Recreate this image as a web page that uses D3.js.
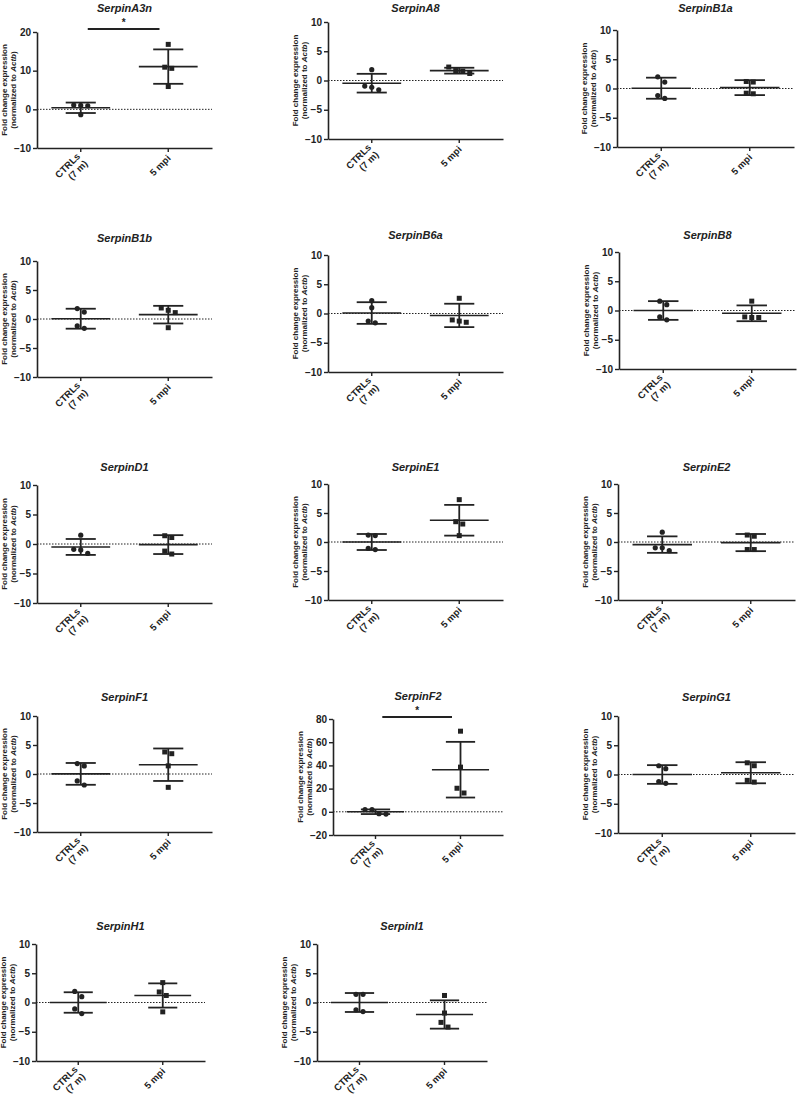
<!DOCTYPE html>
<html><head><meta charset="utf-8">
<script src="https://cdn.jsdelivr.net/npm/d3@7"></script>
<style>
body{margin:0;background:#fff}
svg{display:block}
text{font-family:"Liberation Sans",Arial,sans-serif;fill:#222}
</style>
</head><body>
<svg id="chart" width="797" height="1098"></svg>
<script>
// ---------- data ----------
const genes = ["SerpinA3n","SerpinA8","SerpinB1a","SerpinB1b","SerpinB6a","SerpinB8",
  "SerpinD1","SerpinE1","SerpinE2","SerpinF1","SerpinF2","SerpinG1","SerpinH1","SerpinI1"];
const groups = ["CTRLs (7 m)","5 mpi"];
const groupLabelLines = [["CTRLs","(7 m)"],["5 mpi"]];

const ctrlValues = [
  [1.0, 1.1, 0.9, -1.4],
  [1.85, -0.95, -1.15, -1.6],
  [2.0, 1.1, -1.2, -1.7],
  [1.8, 1.2, -1.2, -1.6],
  [2.2, 1.0, -1.6, -1.3],
  [1.6, 1.0, -1.1, -1.6],
  [1.5, -0.9, -1.0, -1.6],
  [1.1, 1.2, -1.3, -1.1],
  [1.7, -1.0, -1.0, -1.5],
  [1.8, 1.4, -1.2, -1.9],
  [1.8, 2.0, -2.0, -1.6],
  [1.5, 1.0, -1.2, -1.5],
  [1.9, 1.0, -1.1, -1.9],
  [1.4, 1.4, -1.25, -1.55]
];
const mpiValues = [
  [16.8, 10.9, 10.6, 5.9],
  [2.3, 1.7, 1.2, 1.6],
  [1.2, 1.1, -0.9, -0.8],
  [1.5, 1.1, 1.9, -1.5],
  [2.6, -1.1, -1.5, -1.3],
  [1.6, -1.1, -1.2, -1.2],
  [1.4, 1.1, -1.2, -1.7],
  [7.3, 3.5, 3.1, 1.1],
  [1.2, 1.0, -1.3, -1.3],
  [3.5, 3.8, 1.4, -2.3],
  [69.5, 38.5, 20.3, 16.2],
  [2.0, 1.5, -1.0, -1.3],
  [3.4, 1.8, 1.2, -1.6],
  [1.2, -1.8, -3.4, -4.2]
];
const ctrlMean = [0.4, -0.46, 0.05, 0.05, 0.08, 0.0, -0.5, 0.0, -0.45, 0.02, 0.05, 0.0, 0.0, 0.0];
const ctrlSD   = [1.35, 1.6, 1.8, 1.72, 1.85, 1.6, 1.35, 1.38, 1.42, 1.88, 2.0, 1.6, 1.75, 1.62];
const mpiMean  = [11.05, 1.68, 0.15, 0.75, -0.33, -0.48, -0.1, 3.75, -0.1, 1.6, 36.3, 0.3, 1.2, -2.05];
const mpiSD    = [4.45, 0.5, 1.28, 1.52, 2.0, 1.35, 1.6, 2.65, 1.48, 2.8, 24.0, 1.8, 2.07, 2.42];

const yDomains = [[-10,20],[-10,10],[-10,10],[-10,10],[-10,10],[-10,10],[-10,10],
  [-10,10],[-10,10],[-10,10],[-20,80],[-10,10],[-10,10],[-10,10]];
const yTicks = [[-10,0,10,20],[-10,-5,0,5,10],[-10,-5,0,5,10],[-10,-5,0,5,10],[-10,-5,0,5,10],
  [-10,-5,0,5,10],[-10,-5,0,5,10],[-10,-5,0,5,10],[-10,-5,0,5,10],[-10,-5,0,5,10],
  [-20,0,20,40,60,80],[-10,-5,0,5,10],[-10,-5,0,5,10],[-10,-5,0,5,10]];
// significance bar value (null = none)
const sigBar = [20.8, null, null, null, null, null, null, null, null, null, 81.7, null, null, null];
const sigLabel = "*";

// ---------- layout (pixel frame for each panel) ----------
const layout = [
  {x:37,  top:32,  bottom:148,  right:212, titleY:8},
  {x:328, top:22,  bottom:139,  right:503, titleY:8},
  {x:617, top:30,  bottom:147,  right:794, titleY:8},
  {x:37,  top:261, bottom:377,  right:212, titleY:238},
  {x:328, top:255, bottom:372,  right:503, titleY:235},
  {x:619, top:252, bottom:369,  right:796, titleY:235},
  {x:37,  top:485, bottom:603,  right:212, titleY:467},
  {x:328, top:484, bottom:600,  right:503, titleY:467},
  {x:618, top:484, bottom:600,  right:795, titleY:467},
  {x:37,  top:716, bottom:832,  right:212, titleY:697},
  {x:333, top:719, bottom:835,  right:503, titleY:696},
  {x:618, top:716, bottom:833,  right:795, titleY:697},
  {x:36,  top:944, bottom:1061, right:205, titleY:926},
  {x:317, top:944, bottom:1061, right:487, titleY:926}
];

const ink = "#222";
const svg = d3.select("#chart");

function jitterOffsets(vals, y, gap, spacing) {
  const order = vals.map((v,i)=>i).sort((a,b)=>vals[b]-vals[a]);
  const offs = new Array(vals.length).fill(0);
  let cluster = [order[0]];
  const flush = () => {
    const n = cluster.length;
    cluster.forEach((idx,k)=>{ offs[idx] = (k-(n-1)/2)*spacing; });
  };
  for (let k=1;k<order.length;k++){
    const prev = cluster[cluster.length-1];
    if (Math.abs(y(vals[order[k]])-y(vals[prev])) < gap) cluster.push(order[k]);
    else { flush(); cluster=[order[k]]; }
  }
  flush();
  return offs;
}

genes.forEach((gene,i)=>{
  const L = layout[i];
  const g = svg.append("g");
  const y = d3.scaleLinear().domain(yDomains[i]).range([L.bottom, L.top]);
  const x = d3.scaleBand().domain(groups).range([L.x, L.right]).padding(0);
  const cx = k => x(k) + x.bandwidth()/2;
  const w = L.right - L.x;

  // title
  g.append("text").attr("x", L.x + w/2).attr("y", L.titleY)
    .attr("text-anchor","middle").attr("dominant-baseline","central")
    .style("font-size","11px").style("font-weight","bold").style("font-style","italic")
    .text(gene);

  // dotted zero line
  g.append("line").attr("x1",L.x).attr("x2",L.right).attr("y1",y(0)).attr("y2",y(0))
    .attr("stroke",ink).attr("stroke-width",1).attr("stroke-dasharray","1.5,1.5");

  // y axis
  const ya = g.append("g").attr("transform",`translate(${L.x},0)`)
    .call(d3.axisLeft(y).tickValues(yTicks[i]).tickSize(4).tickSizeOuter(0).tickPadding(2));
  // x axis
  const xa = g.append("g").attr("transform",`translate(0,${L.bottom})`)
    .call(d3.axisBottom(x).tickSize(4).tickSizeOuter(0).tickFormat(""));
  [ya,xa].forEach(a=>{
    a.select(".domain").attr("stroke",ink).attr("stroke-width",1.6);
    a.selectAll(".tick line").attr("stroke",ink).attr("stroke-width",1.4);
  });
  ya.selectAll(".tick text").style("font-size","10px").style("font-weight","bold")
    .attr("fill",ink).style("font-family",'"Liberation Sans",Arial,sans-serif');

  // y label
  const ymid = (L.top + L.bottom)/2;
  const yl = g.append("text").attr("transform",`translate(${L.x-33},${ymid}) rotate(-90)`)
    .attr("text-anchor","middle").attr("dominant-baseline","central")
    .style("font-size","8px").style("font-weight","bold");
  yl.append("tspan").attr("x",0).attr("dy","0").text("Fold change expression");
  const yl2 = g.append("text").attr("transform",`translate(${L.x-24},${ymid}) rotate(-90)`)
    .attr("text-anchor","middle").attr("dominant-baseline","central")
    .style("font-size","8px").style("font-weight","bold");
  yl2.append("tspan").text("(normalized to ");
  yl2.append("tspan").style("font-style","italic").text("Actb");
  yl2.append("tspan").text(")");

  // x labels
  groups.forEach((grp,k)=>{
    const lines = groupLabelLines[k];
    const px = cx(grp) + (lines.length>1 ? 0 : 3);
    const py = L.bottom + (lines.length>1 ? 9 : 11);
    const t = g.append("text").attr("transform",`translate(${px},${py}) rotate(-45)`)
      .attr("text-anchor","end").style("font-size","9.5px").style("font-weight","bold");
    lines.forEach((ln,j)=>{
      t.append("tspan").attr("x",0).attr("dy", j===0 ? "0" : "1.1em").text(ln);
    });
  });

  // mean / SD
  const stats = [[ctrlMean[i],ctrlSD[i]],[mpiMean[i],mpiSD[i]]];
  groups.forEach((grp,k)=>{
    const c = cx(grp), m = stats[k][0], s = stats[k][1];
    const meanHalf = w*0.168, capHalf = w*0.086;
    g.append("line").attr("x1",c-meanHalf).attr("x2",c+meanHalf).attr("y1",y(m)).attr("y2",y(m))
      .attr("stroke",ink).attr("stroke-width",1.6);
    g.append("line").attr("x1",c).attr("x2",c).attr("y1",y(m-s)).attr("y2",y(m+s))
      .attr("stroke",ink).attr("stroke-width",1.8);
    [m-s,m+s].forEach(v=>{
      g.append("line").attr("x1",c-capHalf).attr("x2",c+capHalf).attr("y1",y(v)).attr("y2",y(v))
        .attr("stroke",ink).attr("stroke-width",1.8);
    });
  });

  // points
  const cOff = jitterOffsets(ctrlValues[i], y, 6, 7);
  g.selectAll(null).data(ctrlValues[i]).enter().append("circle")
    .attr("cx",(d,j)=>cx(groups[0])+cOff[j]).attr("cy",d=>y(d)).attr("r",2.6).attr("fill",ink);
  const mOff = jitterOffsets(mpiValues[i], y, 6, 7);
  g.selectAll(null).data(mpiValues[i]).enter().append("rect")
    .attr("x",(d,j)=>cx(groups[1])+mOff[j]-2.5).attr("y",d=>y(d)-2.5)
    .attr("width",5).attr("height",5).attr("fill",ink);

  // significance
  if (sigBar[i] !== null) {
    const yb = y(sigBar[i]);
    const x1 = L.x + w*0.29, x2 = L.x + w*0.70;
    g.append("line").attr("x1",x1).attr("x2",x2).attr("y1",yb).attr("y2",yb)
      .attr("stroke",ink).attr("stroke-width",2);
    g.append("text").attr("x",(x1+x2)/2).attr("y",yb-3).attr("text-anchor","middle")
      .style("font-size","10px").style("font-weight","bold").text(sigLabel);
  }
});
</script>
</body></html>
